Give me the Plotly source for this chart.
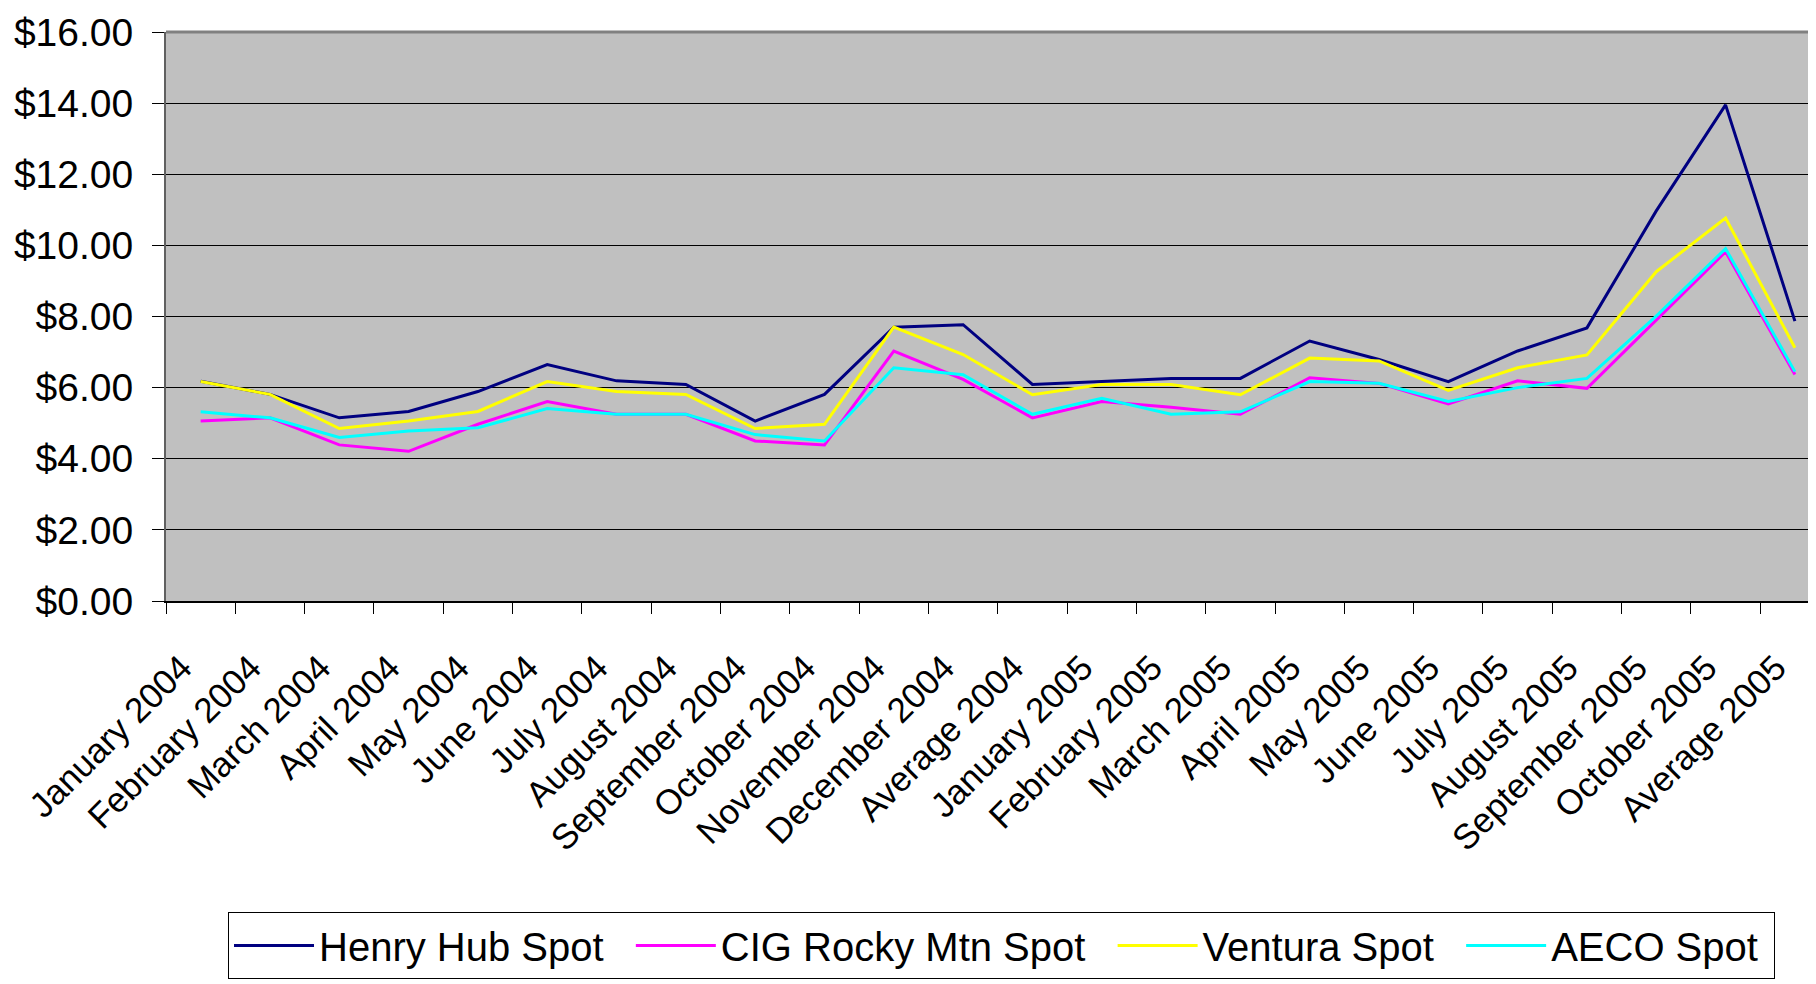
import plotly.graph_objects as go

# monthly spot prices, $/MMBtu
months = ["January 2004", "February 2004", "March 2004", "April 2004", "May 2004",
          "June 2004", "July 2004", "August 2004", "September 2004", "October 2004",
          "November 2004", "December 2004", "Average 2004", "January 2005",
          "February 2005", "March 2005", "April 2005", "May 2005", "June 2005",
          "July 2005", "August 2005", "September 2005", "October 2005", "Average 2005"]

henry_hub = [6.18, 5.81, 5.15, 5.33, 5.89, 6.65, 6.19, 6.09, 5.06, 5.81, 7.70, 7.77,
             6.09, 6.18, 6.26, 6.26, 7.31, 6.79, 6.17, 7.03, 7.68, 10.97, 13.95, 7.87]
cig_rocky = [5.06, 5.15, 4.39, 4.21, 4.97, 5.61, 5.25, 5.25, 4.50, 4.39, 7.03, 6.23,
             5.15, 5.61, 5.45, 5.25, 6.28, 6.12, 5.54, 6.19, 5.98, 7.90, 9.82, 6.37]
ventura = [6.17, 5.81, 4.85, 5.06, 5.33, 6.17, 5.89, 5.81, 4.85, 4.97, 7.70, 6.93,
           5.80, 6.09, 6.09, 5.80, 6.83, 6.75, 5.92, 6.56, 6.92, 9.26, 10.77, 7.12]
aeco = [5.32, 5.15, 4.60, 4.78, 4.87, 5.41, 5.25, 5.25, 4.68, 4.50, 6.56, 6.36,
        5.25, 5.70, 5.25, 5.32, 6.17, 6.12, 5.61, 6.00, 6.26, 8.01, 9.91, 6.45]

names = ["Henry Hub Spot", "CIG Rocky Mtn Spot", "Ventura Spot", "AECO Spot"]
colors = ["#000080", "#FF00FF", "#FFFF00", "#00FFFF"]

font = "Liberation Sans, Arial, sans-serif"
pad = "\u00a0\u00a0"  # a bit of air after each legend entry, like the original

fig = go.Figure()
for i, (name, vals) in enumerate(zip(names, [henry_hub, cig_rocky, ventura, aeco])):
    fig.add_trace(go.Scatter(x=months, y=vals, name=name + (pad if i < 3 else "\u00a0"),
                             mode="lines", line=dict(color=colors[i], width=3)))

# page body has an 8px margin, so the margins below are shifted to compensate
fig.update_layout(
    width=1816, height=984,
    margin=dict(l=158, r=0, t=24, b=391, autoexpand=False),
    plot_bgcolor="#C0C0C0", paper_bgcolor="white",
    font=dict(family=font, color="black"),
    showlegend=True,
    legend=dict(orientation="h", x=0.0374, xanchor="left", y=-0.5466, yanchor="top",
                bgcolor="white", bordercolor="black", borderwidth=1,
                font=dict(size=40, family=font), itemwidth=80),
)
fig.update_xaxes(
    type="category", range=[-0.5, 23.42], tickangle=-45, automargin=False,
    tickson="boundaries", ticks="outside", ticklen=11, tickcolor="black",
    tickfont=dict(size=35), showgrid=False,
    showline=True, linecolor="black", linewidth=2,
    ticklabelstandoff=30, ticklabelshift=-19,
)
fig.update_yaxes(
    range=[0, 16], dtick=2, tickformat="$.2f", automargin=False,
    ticks="outside", ticklen=12, tickcolor="black", tickfont=dict(size=39),
    showgrid=True, gridcolor="black", gridwidth=1, zeroline=False,
    showline=True, linecolor="#606060", linewidth=2, ticklabelstandoff=11,
)
# grey frame line along the top of the plot area
fig.add_shape(type="line", xref="paper", yref="paper", x0=0, x1=1, y0=1, y1=1,
              line=dict(color="#808080", width=3))

fig.write_html("out.html")
